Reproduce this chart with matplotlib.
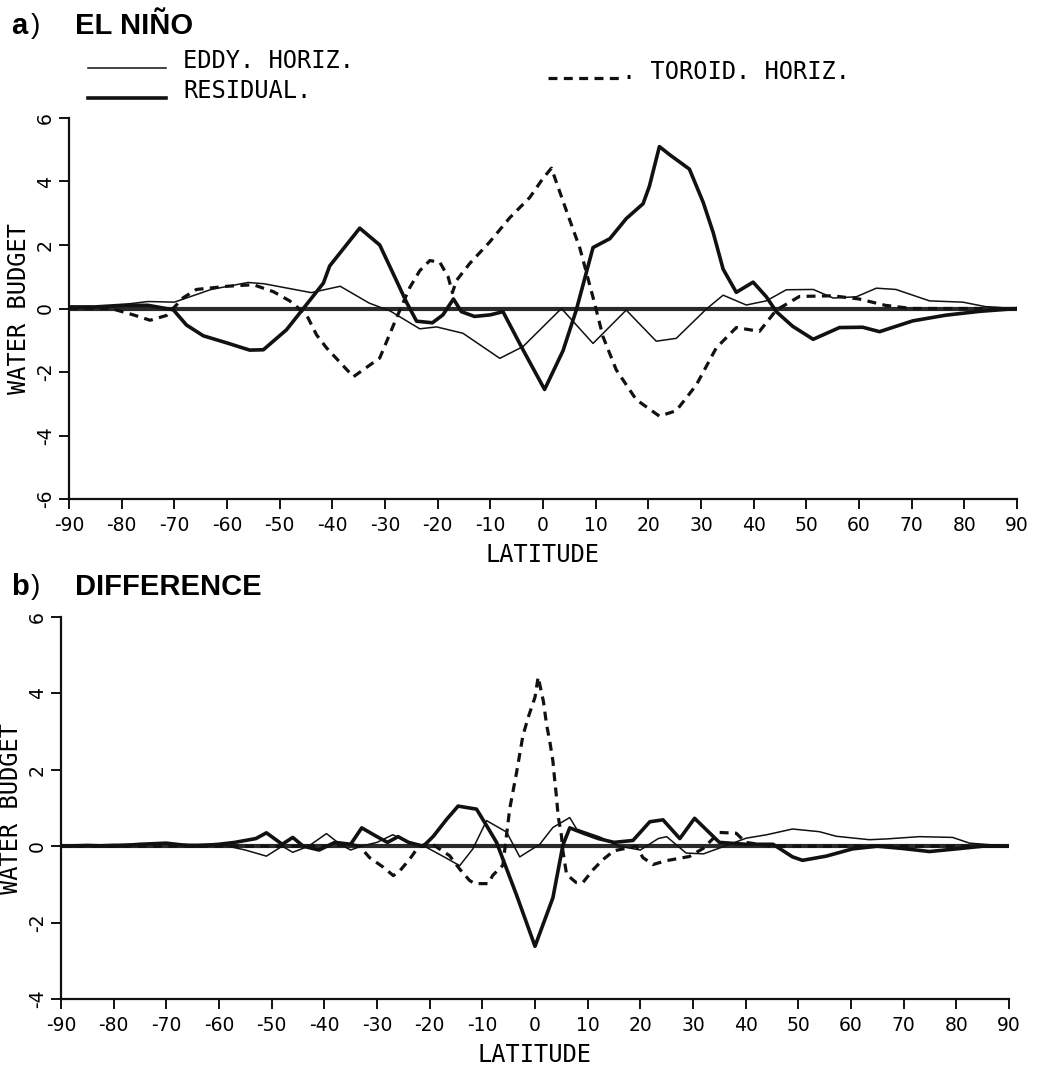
import matplotlib
matplotlib.use("Agg")
import matplotlib.pyplot as plt

# ---- data (latitude, water budget) ----
lat_eddy_a = [-90, -83.5, -75, -70, -63, -56, -53, -44, -38.5, -33, -29, -23.4, -20.2, -15.2, -8.2,
              -3.8, 3.5, 9.5, 15.8, 21.5, 25.3, 31, 34.2, 38.6, 42.4, 46.2, 51.3, 55.1, 59.5, 63.3,
              67, 73.4, 79.7, 84, 90]
eddy_a = [0, 0.05, 0.22, 0.2, 0.6, 0.82, 0.78, 0.5, 0.7, 0.17, -0.08, -0.64, -0.58, -0.78, -1.57,
          -1.2, 0, -1.1, -0.05, -1.03, -0.94, -0.02, 0.42, 0.11, 0.24, 0.59, 0.6, 0.33, 0.37, 0.64,
          0.6, 0.24, 0.2, 0.06, 0]

lat_resid_a = [-90, -85, -80, -75, -70.2, -67.7, -64.5, -60.1, -55.7, -53.1, -48.7, -45.5, -41.7,
               -40.5, -34.8, -31, -27.8, -25.9, -24, -21, -19, -17, -15.5, -13, -10, -7.6, -3.8,
               0.3, 3.8, 6.3, 9.5, 12.7, 15.8, 19, 20.2, 22.1, 24, 27.8, 30.4, 32.3, 34.2, 36.7,
               39.9, 42.4, 44.3, 47.4, 51.3, 56.3, 60.7, 63.9, 70.2, 76.5, 82.9, 90]
resid_a = [0.05, 0.05, 0.1, 0.1, -0.04, -0.52, -0.86, -1.08, -1.31, -1.3, -0.67, 0.0, 0.8,
           1.34, 2.53, 2.0, 0.87, 0.19, -0.4, -0.45, -0.2, 0.3, -0.1, -0.25, -0.2, -0.1, -1.3,
           -2.55, -1.33, -0.06, 1.92, 2.2, 2.83, 3.3, 3.85, 5.1, 4.85, 4.39, 3.35, 2.4, 1.24, 0.51,
           0.83, 0.37, -0.1, -0.56, -0.97, -0.6, -0.59, -0.73, -0.39, -0.21, -0.09, 0]

lat_tor_a = [-90, -82, -77.8, -74.6, -71.5, -68.3, -65.8, -60, -55, -51.2, -48.1, -44.9, -43,
             -41.1, -36, -31, -27.8, -25.3, -23.4, -21.5, -19.6, -18, -17.2, -16.4, -13.9, -10.1,
             -6.3, -2.5, 0, 1.6, 4.4, 7, 9.5, 11.4, 13.9, 17.7, 22.1, 25.3, 29.1, 32.9, 36.7,
             41.1, 44.3, 48.7, 55, 60, 65, 70, 90]
tor_a = [0, 0, -0.2, -0.37, -0.22, 0.34, 0.6, 0.7, 0.75, 0.53, 0.24, -0.2, -0.83,
         -1.24, -2.15, -1.56, -0.29, 0.66, 1.19, 1.51, 1.46, 0.99, 0.5, 0.89, 1.42, 2.1,
         2.86, 3.5, 4.1, 4.42, 3.1, 1.9, 0.35, -0.89, -1.93, -2.87, -3.39, -3.22, -2.41, -1.24, -0.6,
         -0.72, -0.05, 0.38, 0.4, 0.3, 0.1, 0, 0]

lat_eddy_b = [-90, -80, -70, -60, -55, -51, -48, -46, -43, -39.6, -37, -35, -33, -30, -27, -24,
              -21, -17, -14.3, -11.8, -9.2, -5.4, -2.9, 0.9, 3.4, 6.6, 7.9, 12.3, 16, 20, 23.4,
              25, 28.7, 32, 36, 40.1, 44, 48.9, 54, 57.2, 63.5, 66.7, 73, 79.3, 82.5, 90]
eddy_b = [0, 0.05, 0.05, 0.05, -0.1, -0.26, 0, -0.16, 0, 0.33, 0.05, -0.1, 0, 0.1, 0.3, 0.1,
          0, -0.3, -0.51, -0.07, 0.67, 0.37, -0.28, 0.05, 0.49, 0.75, 0.45, 0.24, 0, -0.1, 0.2,
          0.25, -0.18, -0.2, 0, 0.21, 0.3, 0.45, 0.38, 0.26, 0.17, 0.19, 0.25, 0.23, 0.08, 0]

lat_resid_b = [-90, -85, -80, -75, -70, -65, -60, -57, -53, -51, -48, -46, -44, -41, -38, -35,
               -32.9, -30, -28, -26, -24, -21.2, -19.3, -16.8, -14.6, -11.1, -9.2, -7.3, -3.5, 0,
               3.4, 5.3, 6.6, 9, 12, 15, 18.6, 21.8, 24.3, 27.5, 30.3, 35, 40, 45.2, 48.9, 50.8,
               55.3, 60.3, 65, 69.8, 74.9, 79.3, 85, 90]
resid_b = [0, 0.02, 0, 0.05, 0.08, 0, 0.05, 0.1, 0.2, 0.35, 0.05, 0.23, 0, -0.1, 0.1, 0.05,
           0.48, 0.25, 0.1, 0.25, 0.1, 0, 0.26, 0.7, 1.05, 0.97, 0.54, 0.1, -1.28, -2.62,
           -1.35, 0.03, 0.48, 0.35, 0.2, 0.1, 0.15, 0.64, 0.69, 0.2, 0.73, 0.1, 0.05, 0.05, -0.28, -0.37,
           -0.26, -0.07, 0, -0.06, -0.14, -0.08, 0, 0]

lat_tor_b = [-90, -40, -35, -33.3, -31.4, -28.8, -26.9, -25.7, -23.8, -22.2, -20, -16.2, -14.3,
             -12.4, -11.4, -8.9, -8, -6.1, -4.8, -3.5, -2.3, -1.3, 0, 0.6, 1.6, 2.2, 2.8, 3.4,
             3.7, 4.1, 4.4, 5, 5.3, 6, 7.8, 9.1, 11, 12.9, 15, 19.2, 20.5, 22.4, 24.9, 29.3,
             31.9, 35, 38.2, 40, 45, 90]
tor_b = [0, 0, 0.05, 0, -0.3, -0.55, -0.77, -0.65, -0.34, -0.03, 0.1, -0.25, -0.6,
         -0.9, -0.98, -0.98, -0.76, -0.5, 0.98, 1.93, 2.89, 3.37, 3.9, 4.43, 3.79, 3.18, 2.75, 2.23,
         1.79, 1.26, 0.78, 0.3, -0.13, -0.74, -0.95, -0.95, -0.62, -0.35, -0.12, 0, -0.3, -0.48, -0.38, -0.27,
         -0.06, 0.36, 0.34, 0.1, 0, 0]

xticks = [-90, -80, -70, -60, -50, -40, -30, -20, -10, 0, 10, 20, 30, 40, 50, 60, 70, 80, 90]
yticks_a = [-6, -4, -2, 0, 2, 4, 6]
yticks_b = [-4, -2, 0, 2, 4, 6]

W, H = 1037, 1075
fig = plt.figure(figsize=(W / 100, H / 100), dpi=100)
fig.patch.set_facecolor("white")

mono = "DejaVu Sans Mono"
tickfont = "DejaVu Sans"
ink = "#111111"
dash = (0, (2.8, 2.0))


def fx(px):
    return px / W


def fy(py):
    return 1 - py / H


def setup(ax, yticks, ylim):
    ax.set_xlim(-90, 90)
    ax.set_ylim(*ylim)
    for s in ["top", "right"]:
        ax.spines[s].set_visible(False)
    for s in ["left", "bottom"]:
        ax.spines[s].set_linewidth(1.6)
        ax.spines[s].set_color(ink)
    ax.set_xticks(xticks)
    ax.set_xticklabels([str(t) for t in xticks], fontsize=13.5, family=tickfont)
    ax.set_yticks(yticks)
    ax.set_yticklabels([str(t) for t in yticks], fontsize=13.5, family=tickfont,
                       rotation=90, va="center")
    ax.tick_params(direction="out", length=7, width=1.4, color=ink)
    ax.tick_params(axis="x", pad=5)
    ax.tick_params(axis="y", pad=3)
    ax.set_xlabel("LATITUDE", family=mono, fontsize=17, labelpad=6)
    ax.set_ylabel("WATER BUDGET", family=mono, fontsize=17, labelpad=4)
    ax.axhline(0, color="#2a2a2a", lw=3.0, zorder=1)


def draw(ax, le, e, lr, r, lt, t):
    ax.plot(le, e, color=ink, lw=1.1, zorder=3)
    ax.plot(lr, r, color=ink, lw=2.6, zorder=3)
    ax.plot(lt, t, color=ink, lw=2.3, linestyle=dash, zorder=3)


ax1 = fig.add_axes([fx(69), fy(499), fx(948), 381 / H])
setup(ax1, yticks_a, (-6, 6))
draw(ax1, lat_eddy_a, eddy_a, lat_resid_a, resid_a, lat_tor_a, tor_a)

ax2 = fig.add_axes([fx(61), fy(999), fx(948), 382 / H])
setup(ax2, yticks_b, (-4, 6))
draw(ax2, lat_eddy_b, eddy_b, lat_resid_b, resid_b, lat_tor_b, tor_b)

# panel titles
for ty, title in [(26, "EL NIÑO"), (587, "DIFFERENCE")]:
    letter = "a" if ty < 300 else "b"
    fig.text(fx(11), fy(ty), letter, fontsize=21, fontweight="bold", family="Liberation Sans",
             va="center", ha="left")
    fig.text(fx(31), fy(ty), ")", fontsize=20, family="Liberation Sans", va="center", ha="left")
    fig.text(fx(75), fy(ty), title, fontsize=21, fontweight="bold", family="Liberation Sans",
             va="center", ha="left")

# legend drawn as on the plotter sheet
fig.add_artist(plt.Line2D([fx(88), fx(166)], [fy(68), fy(68)], color=ink, lw=1.1))
fig.text(fx(183), fy(61), "EDDY. HORIZ.", family=mono, fontsize=17, va="center", ha="left")
fig.add_artist(plt.Line2D([fx(88), fx(166)], [fy(98), fy(98)], color=ink, lw=2.6))
fig.text(fx(183), fy(91), "RESIDUAL.", family=mono, fontsize=17, va="center", ha="left")
fig.add_artist(plt.Line2D([fx(548), fx(622)], [fy(78), fy(78)], color=ink, lw=2.3,
                          linestyle=dash))
fig.text(fx(622), fy(72), ". TOROID. HORIZ.", family=mono, fontsize=17, va="center", ha="left")

fig.savefig("out.png", dpi=100, facecolor="white")
